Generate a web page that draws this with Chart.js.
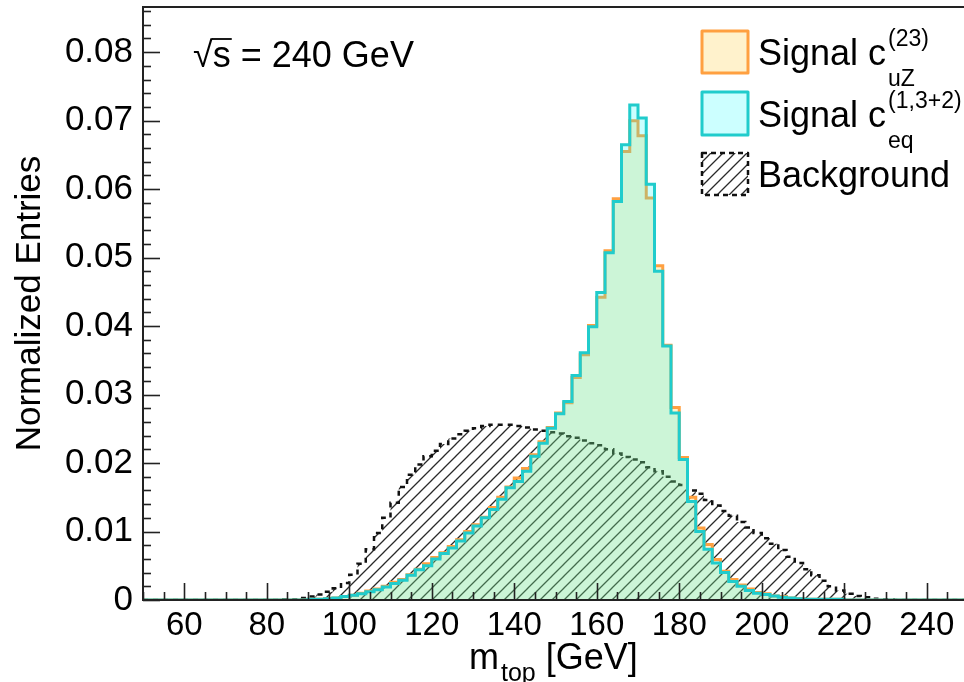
<!DOCTYPE html>
<html>
<head>
<meta charset="utf-8">
<title>m_top distribution</title>
<script src="https://cdn.jsdelivr.net/npm/chart.js@4.4.1/dist/chart.umd.min.js"></script>
<style>
    html, body { margin: 0; padding: 0; background: #ffffff; overflow: hidden; }
    #wrap { position: relative; width: 964px; height: 682px; overflow: hidden; }
    #chart { position: absolute; left: 0; top: 0; }
</style>
</head>
<body>
<div id="wrap"><canvas id="chart" width="972" height="682"></canvas></div>
<script>
// Histogram binning: 2 GeV bins, 50 -> 250 GeV
const binStart = 50;
const binWidth = 2;

// Normalized entries per bin
const signalUZ = [
    0, 0, 0, 0, 0, 0, 0, 0, 0, 0,
    0, 0, 0, 0, 0, 0, 0, 0, 0, 0,
    0.0001, 0.0001, 0.0002, 0.0003, 0.0005, 0.0007, 0.0010, 0.0013, 0.0016, 0.0020,
    0.0026, 0.0030, 0.0037, 0.0045, 0.0053, 0.0062, 0.0069, 0.0078, 0.0088, 0.0100,
    0.0110, 0.0121, 0.0135, 0.0150, 0.0165, 0.0178, 0.0192, 0.0212, 0.0231, 0.0252,
    0.0273, 0.0288, 0.0325, 0.0358, 0.0401, 0.0442, 0.0510, 0.0586, 0.0655, 0.0700,
    0.0678, 0.0587, 0.0488, 0.0372, 0.0281, 0.0208, 0.0150, 0.0105, 0.0081, 0.0059,
    0.0042, 0.0030, 0.0022, 0.0016, 0.0011, 0.0009, 0.0006, 0.0005, 0.0003, 0.0002,
    0.0001, 0.0001, 0.0001, 0.0001, 0.0001, 0, 0, 0, 0, 0,
    0, 0, 0, 0, 0, 0, 0, 0, 0, 0
];

const signalEQ = [
    0, 0, 0, 0, 0, 0, 0, 0, 0, 0,
    0, 0, 0, 0, 0, 0, 0, 0, 0, 0,
    0.0001, 0.0001, 0.0002, 0.0003, 0.0005, 0.0007, 0.0009, 0.0012, 0.0015, 0.0019,
    0.0024, 0.0029, 0.0036, 0.0044, 0.0050, 0.0060, 0.0068, 0.0076, 0.0086, 0.0098,
    0.0108, 0.0120, 0.0132, 0.0147, 0.0164, 0.0173, 0.0188, 0.0210, 0.0229, 0.0251,
    0.0272, 0.0290, 0.0328, 0.0361, 0.0399, 0.0449, 0.0507, 0.0582, 0.0665, 0.0723,
    0.0704, 0.0607, 0.0480, 0.0371, 0.0273, 0.0205, 0.0144, 0.0100, 0.0074, 0.0054,
    0.0040, 0.0027, 0.0020, 0.0014, 0.0010, 0.0008, 0.0006, 0.0004, 0.0003, 0.0002,
    0.0001, 0.0001, 0.0001, 0.0001, 0.0001, 0, 0, 0, 0, 0,
    0, 0, 0, 0, 0, 0, 0, 0, 0, 0
];

const background = [
    0, 0, 0, 0, 0, 0, 0, 0, 0, 0,
    0, 0, 0, 0, 0, 0, 0, 0.0001, 0.0001, 0.0003,
    0.0005, 0.0008, 0.0012, 0.0017, 0.0025, 0.0037, 0.0053, 0.0074, 0.0098, 0.0120,
    0.0142, 0.0165, 0.0183, 0.0198, 0.0210, 0.0218, 0.0228, 0.0236, 0.0242, 0.0247,
    0.0251, 0.0254, 0.0256, 0.0256, 0.0256, 0.0254, 0.0252, 0.0249, 0.0247, 0.0245,
    0.0243, 0.0239, 0.0237, 0.0233, 0.0229, 0.0226, 0.0220, 0.0214, 0.0209, 0.0205,
    0.0201, 0.0194, 0.0188, 0.0180, 0.0173, 0.0168, 0.0160, 0.0155, 0.0146, 0.0138,
    0.0130, 0.0123, 0.0114, 0.0106, 0.0098, 0.0090, 0.0082, 0.0073, 0.0063, 0.0054,
    0.0045, 0.0036, 0.0028, 0.0020, 0.0014, 0.0009, 0.0006, 0.0004, 0.0002, 0.0001,
    0.0001, 0, 0, 0, 0, 0, 0, 0, 0, 0
];

// Axis tick labels
const xTicks = [60, 80, 100, 120, 140, 160, 180, 200, 220, 240];
const yTicks = [0, 0.01, 0.02, 0.03, 0.04, 0.05, 0.06, 0.07, 0.08];

const FONT = "'Liberation Sans', Arial, Helvetica, sans-serif";
const orangeLine = '#ffa040';
const orangeFill = 'rgba(255, 191, 0, 0.2)';
const cyanLine = '#20cccc';
const cyanFill = 'rgba(0, 255, 255, 0.2)';

// Turn bin contents into step points (last point closes the final bin)
function toSteps(values) {
    const pts = values.map((v, i) => ({ x: binStart + i * binWidth, y: v }));
    pts.push({ x: binStart + values.length * binWidth, y: values[values.length - 1] });
    return pts;
}

// Diagonal hatch pattern used for the background histogram
function makeHatch(ctx) {
    const size = 12;
    const tile = document.createElement('canvas');
    tile.width = size;
    tile.height = size;
    const g = tile.getContext('2d');
    g.strokeStyle = '#2a2a2a';
    g.lineWidth = 1.3;
    g.beginPath();
    g.moveTo(-1, size + 1); g.lineTo(size + 1, -1);
    g.moveTo(-1, 1); g.lineTo(1, -1);
    g.moveTo(size - 1, size + 1); g.lineTo(size + 1, size - 1);
    g.stroke();
    return ctx.createPattern(tile, 'repeat');
}

// Draw text followed by a superscript and a subscript
function drawScripted(ctx, x, y, base, sup, sub, size, subSize) {
    ctx.font = size + 'px ' + FONT;
    ctx.fillText(base, x, y);
    const w = ctx.measureText(base).width;
    ctx.font = subSize + 'px ' + FONT;
    if (sup) ctx.fillText(sup, x + w + 2, y - size * 0.52);
    if (sub) ctx.fillText(sub, x + w + 2, y + size * 0.58);
}

// Frame, inward ticks, legend and labels (ROOT style)
const rootStyle = {
    id: 'rootStyle',
    afterDraw(chart) {
        const { ctx, chartArea: a, scales: { x, y } } = chart;
        ctx.save();
        ctx.strokeStyle = '#222222';
        ctx.lineWidth = 1.6;

        // x ticks every 5 GeV, major every 20
        for (let v = 50; v <= 250; v += 5) {
            const px = Math.round(x.getPixelForValue(v)) + 0.5;
            const len = v % 20 === 0 ? 17 : 8;
            ctx.beginPath();
            ctx.moveTo(px, a.bottom);
            ctx.lineTo(px, a.bottom - len);
            ctx.stroke();
        }
        // y ticks every 0.002, major every 0.01
        for (let i = 0; i * 0.002 <= y.max; i++) {
            const py = Math.round(y.getPixelForValue(i * 0.002)) + 0.5;
            const len = i % 5 === 0 ? 17 : 8;
            ctx.beginPath();
            ctx.moveTo(a.left, py);
            ctx.lineTo(a.left + len, py);
            ctx.stroke();
        }
        ctx.lineWidth = 2;
        ctx.strokeRect(a.left, a.top, a.right - a.left, a.bottom - a.top);

        // x axis title with subscript
        ctx.fillStyle = '#000000';
        ctx.textBaseline = 'alphabetic';
        ctx.textAlign = 'left';
        ctx.font = '36px ' + FONT;
        const mW = ctx.measureText('m').width;
        ctx.fillText('m', 469, 669);
        ctx.font = '25px ' + FONT;
        const subW = ctx.measureText('top').width;
        ctx.fillText('top', 469 + mW + 2, 681);
        ctx.font = '36px ' + FONT;
        ctx.fillText(' [GeV]', 469 + mW + subW + 2, 669);

        // sqrt(s) label
        ctx.font = '36px ' + FONT;
        const rootW = ctx.measureText('\u221A').width;
        const sW = ctx.measureText('s').width;
        ctx.fillText('\u221As = 240 GeV', 193, 67);
        ctx.lineWidth = 1.8;
        ctx.strokeStyle = '#000000';
        ctx.beginPath();
        ctx.moveTo(193 + rootW - 1, 39);
        ctx.lineTo(193 + rootW + sW + 1, 39);
        ctx.stroke();

        // legend boxes
        ctx.lineJoin = 'round';
        ctx.lineWidth = 3;
        ctx.fillStyle = orangeFill;
        ctx.fillRect(702, 31, 46, 42);
        ctx.strokeStyle = orangeLine;
        ctx.strokeRect(702, 31, 46, 42);

        ctx.fillStyle = cyanFill;
        ctx.fillRect(702, 92, 46, 43);
        ctx.strokeStyle = cyanLine;
        ctx.strokeRect(702, 92, 46, 43);

        ctx.fillStyle = chart.data.datasets[0].backgroundColor;
        ctx.fillRect(702, 153, 46, 42);
        ctx.strokeStyle = '#111111';
        ctx.lineWidth = 2.5;
        ctx.setLineDash([5, 4]);
        ctx.strokeRect(702, 153, 46, 42);
        ctx.setLineDash([]);

        // legend texts
        ctx.fillStyle = '#000000';
        drawScripted(ctx, 758, 65, 'Signal c', '(23)', 'uZ', 36, 23);
        drawScripted(ctx, 758, 127, 'Signal c', '(1,3+2)', 'eq', 36, 23);
        ctx.font = '36px ' + FONT;
        ctx.fillText('Background', 758, 187);
        ctx.restore();
    }
};

function initializeChart() {
    const canvas = document.getElementById('chart');
    const ctx = canvas.getContext('2d');
    const hatch = makeHatch(ctx);

    Chart.defaults.font.family = FONT;
    Chart.defaults.color = '#000000';

    new Chart(ctx, {
        type: 'line',
        data: {
            datasets: [{
                label: 'Background',
                data: toSteps(background),
                stepped: 'before',
                borderColor: '#111111',
                borderWidth: 2.5,
                borderDash: [5, 5],
                backgroundColor: hatch,
                fill: 'origin',
                pointRadius: 0,
                order: 3
            }, {
                label: 'Signal uZ',
                data: toSteps(signalUZ),
                stepped: 'before',
                borderColor: orangeLine,
                borderWidth: 3,
                backgroundColor: orangeFill,
                fill: 'origin',
                pointRadius: 0,
                order: 2
            }, {
                label: 'Signal eq',
                data: toSteps(signalEQ),
                stepped: 'before',
                borderColor: cyanLine,
                borderWidth: 3,
                backgroundColor: cyanFill,
                fill: 'origin',
                pointRadius: 0,
                order: 1
            }]
        },
        options: {
            responsive: false,
            animation: false,
            layout: { padding: { top: 7, right: 4, left: 0, bottom: 0 } },
            plugins: {
                legend: { display: false },
                tooltip: { enabled: false }
            },
            scales: {
                x: {
                    type: 'linear',
                    min: 50,
                    max: 250,
                    grid: { display: false, drawTicks: false },
                    border: { display: false },
                    afterBuildTicks: (scale) => { scale.ticks = xTicks.map(v => ({ value: v })); },
                    afterFit: (scale) => {
                        scale.height = 82;
                        scale.paddingLeft = 0;
                        scale.paddingRight = 0;
                    },
                    ticks: {
                        padding: 6,
                        maxRotation: 0,
                        autoSkip: false,
                        font: { size: 33 }
                    }
                },
                y: {
                    min: 0,
                    max: 0.0866,
                    grid: { display: false, drawTicks: false },
                    border: { display: false },
                    afterBuildTicks: (scale) => { scale.ticks = yTicks.map(v => ({ value: v })); },
                    afterFit: (scale) => {
                        scale.width = 143;
                        scale.paddingTop = 0;
                        scale.paddingBottom = 0;
                    },
                    title: {
                        display: true,
                        text: 'Normalized Entries',
                        font: { size: 35 },
                        padding: { top: 9, bottom: 0 }
                    },
                    ticks: {
                        padding: 10,
                        autoSkip: false,
                        font: { size: 35 },
                        callback: (v) => v === 0 ? '0' : v.toFixed(2)
                    }
                }
            }
        },
        plugins: [rootStyle]
    });
}

document.addEventListener('DOMContentLoaded', initializeChart);
</script>
</body>
</html>
